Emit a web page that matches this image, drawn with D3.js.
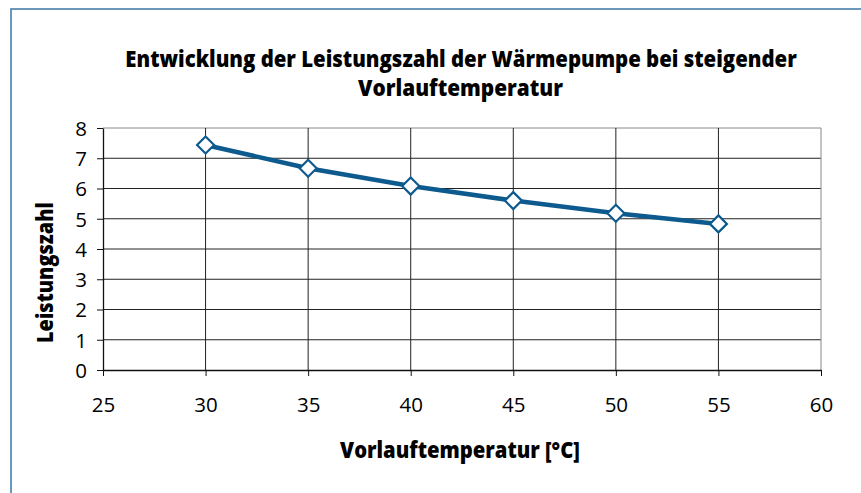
<!DOCTYPE html>
<html><head><meta charset="utf-8">
<script src="https://cdn.jsdelivr.net/npm/d3@7"></script>
<style>body{margin:0;background:#fff}</style>
</head><body>
<svg id="c" width="861" height="493"></svg>
<script>
const temps = [30, 35, 40, 45, 50, 55];
const cop = [7.44, 6.67, 6.08, 5.6, 5.18, 4.83];
const xTicks = [25, 30, 35, 40, 45, 50, 55, 60];
const yTicks = [0, 1, 2, 3, 4, 5, 6, 7, 8];
const titleLines = ["Entwicklung der Leistungszahl der Wärmepumpe bei steigender", "Vorlauftemperatur"];
const xTitle = "Vorlauftemperatur [°C]";
const yTitle = "Leistungszahl";

const svg = d3.select("#c");
const F = "'Open Sans', 'Noto Sans', sans-serif";
const blue = "#0d5a8e";

svg.append("rect").attr("x", 11).attr("y", 9).attr("width", 900).attr("height", 600)
  .attr("fill", "none").attr("stroke", "#3a76a6").attr("stroke-width", 1.5);

const L = 103, R = 821, T = 128, B = 370;
const x = d3.scaleLinear().domain([25, 60]).range([L, R]);
const y = d3.scaleLinear().domain([0, 8]).range([B, T]);

const g = svg.append("g");
g.selectAll(".hg").data(yTicks.filter(d => d > 0)).join("line")
  .attr("x1", L).attr("x2", R).attr("y1", d => y(d)).attr("y2", d => y(d))
  .attr("stroke", d => d === 8 ? "#888" : "#222").attr("stroke-width", 1);
g.selectAll(".vg").data(xTicks.filter(d => d > 25)).join("line")
  .attr("y1", T).attr("y2", B).attr("x1", d => x(d)).attr("x2", d => x(d))
  .attr("stroke", d => d === 60 ? "#888" : "#222").attr("stroke-width", 1);

const xa = svg.append("g").attr("transform", `translate(0,${B})`)
  .call(d3.axisBottom(x).tickValues(xTicks).tickSize(6).tickPadding(21).tickSizeOuter(0));
const ya = svg.append("g").attr("transform", `translate(${L},0)`)
  .call(d3.axisLeft(y).tickValues(yTicks).tickSize(6).tickPadding(10).tickSizeOuter(0));
[xa, ya].forEach(a => {
  a.select(".domain").attr("stroke", "#111").attr("stroke-width", 1.3);
  a.selectAll(".tick line").attr("stroke", "#111");
  a.selectAll("text").attr("font-family", F).attr("font-size", 20.5).attr("fill", "#000");
});
ya.selectAll("text").attr("dy", "0.36em");

const line = d3.line().x((d, i) => x(temps[i])).y(d => y(d));
svg.append("path").datum(cop).attr("d", line).attr("fill", "none")
  .attr("stroke", blue).attr("stroke-width", 4.5);
svg.selectAll(".m").data(cop).join("path")
  .attr("transform", (d, i) => `translate(${x(temps[i])},${y(d)})`)
  .attr("d", "M0,-8.5L8.5,0L0,8.5L-8.5,0Z")
  .attr("fill", "#fff").attr("stroke", blue).attr("stroke-width", 2.2);

function bold(cx, cy, size, txt, len, rot) {
  const t = svg.append("text").attr("text-anchor", "middle")
    .attr("font-family", F).attr("font-weight", 800).attr("font-size", size)
    .attr("fill", "#000").text(txt);
  const s = len / t.node().getComputedTextLength();
  t.attr("transform", `translate(${cx},${cy})${rot ? " rotate(-90)" : ""} scale(${s},1)`);
  return t;
}
bold(461, 67, 23, titleLines[0], 672);
bold(460.5, 96, 23, titleLines[1], 205);
bold(460, 458, 23, xTitle, 240);
bold(53, 272.5, 23, yTitle, 141, true);
</script>
</body></html>
